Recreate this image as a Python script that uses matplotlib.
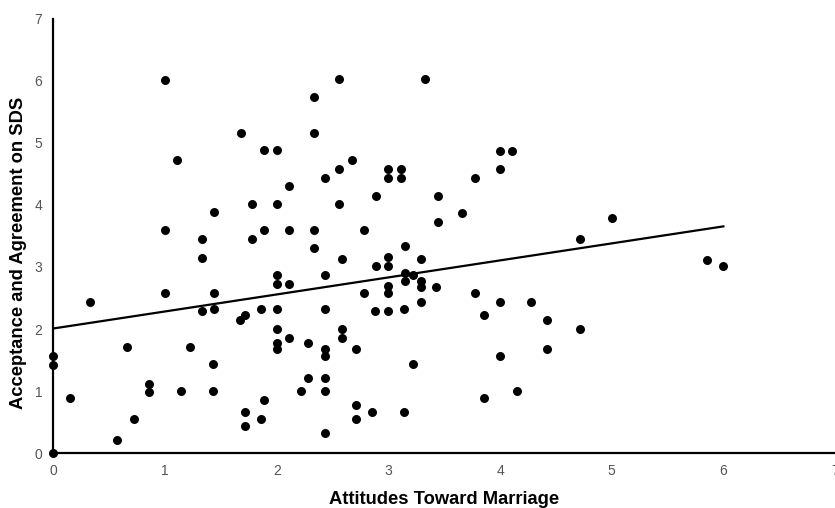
import numpy as np
import matplotlib
matplotlib.use('Agg')
import matplotlib.pyplot as plt

plt.rcParams['font.family'] = ['Liberation Sans', 'DejaVu Sans']

# attitudes toward marriage (x) and acceptance/agreement on SDS (y)
attitudes = [0, 0, 0, 0.15, 0.33, 0.57, 0.66, 0.72, 0.86, 0.86,
             1.00, 1.00, 1.00, 1.11, 1.14, 1.22, 1.33, 1.33, 1.33,
             1.44, 1.44, 1.44, 1.43, 1.43, 1.67, 1.68, 1.72, 1.72, 1.72,
             1.78, 1.78, 1.86, 1.86, 1.89, 1.89, 1.89,
             2.00, 2.00, 2.00, 2.00, 2.00, 2.00, 2.00, 2.00,
             2.11, 2.11, 2.11, 2.11, 2.22, 2.28, 2.28,
             2.33, 2.33, 2.33, 2.33,
             2.43, 2.43, 2.43, 2.43, 2.43, 2.43, 2.43, 2.43,
             2.56, 2.56, 2.56, 2.58, 2.58, 2.58, 2.67,
             2.71, 2.71, 2.71, 2.78, 2.78, 2.85, 2.89, 2.89, 2.88,
             3.00, 3.00, 3.00, 3.00, 3.00, 3.00, 3.00, 3.11, 3.11,
             3.15, 3.15, 3.15, 3.14, 3.14, 3.22, 3.22,
             3.29, 3.29, 3.29, 3.29, 3.33, 3.44, 3.44, 3.43, 3.66,
             3.78, 3.78, 3.86, 3.86, 4.00, 4.00, 4.00, 4.00, 4.11, 4.15,
             4.28, 4.42, 4.42, 4.72, 4.72, 5.00, 5.85, 6.00]
acceptance = [0, 1.42, 1.57, 0.89, 2.43, 0.21, 1.71, 0.55, 1.11, 0.99,
              6.01, 3.59, 2.58, 4.73, 1.00, 1.71, 3.45, 3.14, 2.29,
              3.88, 2.58, 2.33, 1.44, 1.00, 2.15, 5.16, 2.23, 0.67, 0.44,
              4.02, 3.45, 2.33, 0.55, 4.88, 3.59, 0.86,
              4.88, 4.02, 2.87, 2.72, 2.33, 2.00, 1.78, 1.68,
              4.31, 3.59, 2.72, 1.86, 1.00, 1.78, 1.22,
              5.73, 5.16, 3.59, 3.30,
              4.44, 2.87, 2.33, 1.68, 1.56, 1.22, 1.00, 0.33,
              6.02, 4.58, 4.02, 3.13, 2.00, 1.86, 4.73,
              1.68, 0.78, 0.55, 3.59, 2.58, 0.67, 4.15, 3.01, 2.29,
              4.58, 4.44, 3.16, 3.01, 2.69, 2.58, 2.29, 4.58, 4.44,
              3.34, 2.91, 2.78, 2.33, 0.67, 2.87, 1.43,
              3.13, 2.78, 2.67, 2.44, 6.02, 4.15, 3.72, 2.67, 3.87,
              4.44, 2.58, 2.22, 0.89, 4.87, 4.58, 2.44, 1.56, 4.87, 1.00,
              2.44, 2.15, 1.68, 3.45, 2.00, 3.79, 3.12, 3.01]

# fitted line as shown in the figure
fit_intercept = 2.01
fit_slope = 0.274
fit_range = [0, 6]

x_ticks = [0, 1, 2, 3, 4, 5, 6, 7]
y_ticks = [0, 1, 2, 3, 4, 5, 6, 7]

fig = plt.figure(figsize=(8.35, 5.08), dpi=100)
ax = fig.add_axes([0.064, 0.1077, 0.936, 0.8557])

ax.scatter(attitudes, acceptance, s=42, color='black', linewidths=0,
           zorder=3, clip_on=False)

fx = np.array(fit_range, dtype=float)
ax.plot(fx, fit_intercept + fit_slope * fx, color='black', lw=1.6, zorder=2)

ax.set_xlim(0, 6.96)
ax.set_ylim(0, 7)
ax.set_xticks(x_ticks)
ax.set_yticks(y_ticks)
ax.tick_params(length=0, labelsize=10, labelcolor='#555555', pad=8)

for s in ['top', 'right']:
    ax.spines[s].set_visible(False)
for s in ['left', 'bottom']:
    ax.spines[s].set_linewidth(1.6)

ax.set_xlabel('Attitudes Toward Marriage', fontsize=13.2, fontweight='bold', labelpad=9)
# y label sits a little below the axis centre in the original
fig.text(18.5 / 835, 1 - 253 / 508, 'Acceptance and Agreement on SDS',
         rotation=90, ha='center', va='center', fontsize=13.2, fontweight='bold')

fig.savefig('out.png', dpi=100)
